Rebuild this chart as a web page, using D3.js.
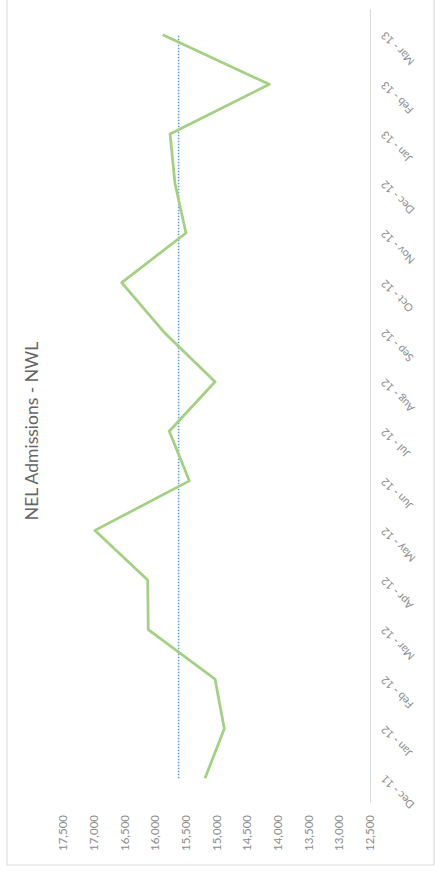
<!DOCTYPE html>
<html>
<head>
<meta charset="utf-8">
<script src="https://cdn.jsdelivr.net/npm/d3@7/dist/d3.min.js"></script>
<style>
  html, body { margin: 0; padding: 0; background: #ffffff; }
  svg { display: block; }
  text { font-family: Lato, "Open Sans", sans-serif; }
</style>
</head>
<body>
<svg id="chart" width="435" height="871"></svg>
<script>
// Monthly non-elective admissions, North West London
const months = ["Dec - 11", "Jan - 12", "Feb - 12", "Mar - 12", "Apr - 12", "May - 12",
                "Jun - 12", "Jul - 12", "Aug - 12", "Sep - 12", "Oct - 12", "Nov - 12",
                "Dec - 12", "Jan - 13", "Feb - 13", "Mar - 13"];
const admissions = [15187, 14873, 15024, 16111, 16121, 16979, 15443, 15769,
                    15024, 15855, 16544, 15497, 15676, 15757, 14140, 15876];
const averageLine = [15617, 15617, 15617, 15617, 15617, 15617, 15617, 15617,
                     15617, 15617, 15617, 15617, 15617, 15617, 15617, 15617];
const valueTicks = [12500, 13000, 13500, 14000, 14500, 15000, 15500, 16000, 16500, 17000, 17500];
const chartTitle = "NEL Admissions - NWL";

const W = 871, H = 435;           // landscape chart, turned onto its side
const svg = d3.select("#chart");
const g = svg.append("g").attr("transform", "translate(0,871) rotate(-90)");

// chart frame
g.append("rect")
  .attr("x", 6).attr("y", 7)
  .attr("width", 880).attr("height", 427)
  .attr("fill", "#ffffff")
  .attr("stroke", "#d9d9d9").attr("stroke-width", 1);

const x = d3.scaleBand().domain(months).range([68, 861]);
const y = d3.scaleLinear().domain([12500, 17500]).range([370, 63]);
const cx = m => x(m) + x.bandwidth() / 2;

// title
g.append("text")
  .attr("x", 440).attr("y", 34)
  .attr("text-anchor", "middle")
  .attr("dominant-baseline", "middle")
  .attr("fill", "#666666")
  .attr("font-size", 17.5)
  .text(chartTitle);

// value axis (labels only)
const yAxis = g.append("g")
  .attr("transform", "translate(56,0)")
  .call(d3.axisLeft(y).tickValues(valueTicks).tickSize(0).tickPadding(0)
        .tickFormat(d3.format(",")));
yAxis.select(".domain").remove();
yAxis.selectAll("text")
  .attr("fill", "#8c8c8c")
  .attr("font-size", 11.5)
  .attr("font-family", "Lato, 'Open Sans', sans-serif");

// category axis
const xAxis = g.append("g")
  .attr("transform", "translate(0,370)")
  .call(d3.axisBottom(x).tickSize(0).tickSizeOuter(0));
xAxis.select(".domain").attr("stroke", "#d9d9d9");
xAxis.selectAll("text")
  .attr("fill", "#8c8c8c")
  .attr("font-size", 11)
  .attr("font-family", "Lato, 'Open Sans', sans-serif")
  .attr("text-anchor", "end")
  .attr("dy", "0.35em")
  .attr("y", 0)
  .attr("transform", "translate(1,13) rotate(-45)");

// average line
const line = d3.line().x((d, i) => cx(months[i])).y(d => y(d));
g.append("path")
  .datum(averageLine)
  .attr("d", line)
  .attr("fill", "none")
  .attr("stroke", "#5b9bd5")
  .attr("stroke-width", 1.5)
  .attr("stroke-dasharray", "1.5,1.5");

// admissions series
g.append("path")
  .datum(admissions)
  .attr("d", line)
  .attr("fill", "none")
  .attr("stroke", "#a3d083")
  .attr("stroke-width", 2.75)
  .attr("stroke-linejoin", "round");
</script>
</body>
</html>
